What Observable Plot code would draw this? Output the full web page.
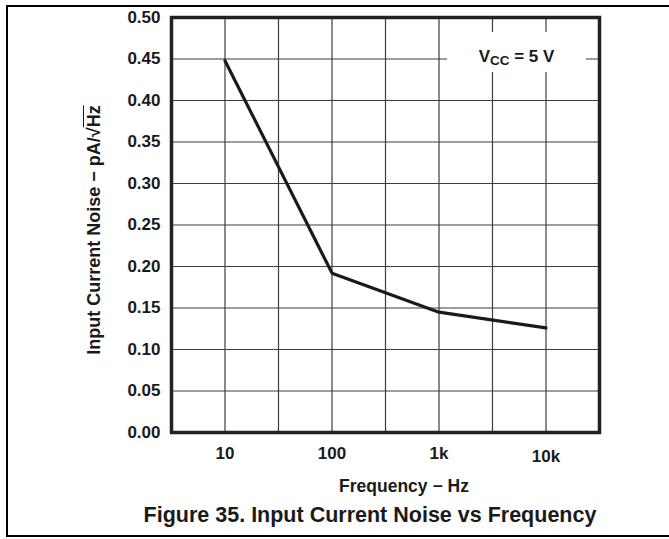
<!DOCTYPE html>
<html><head><meta charset="utf-8">
<script src="https://cdn.jsdelivr.net/npm/d3@7"></script>
<script src="https://cdn.jsdelivr.net/npm/@observablehq/plot@0.6"></script>
<style>
body{margin:0;background:#fff;}
#wrap{position:relative;width:669px;height:539px;overflow:hidden;font-family:"Liberation Sans",Arial,sans-serif;font-weight:bold;color:#1a1a1a;}
#chart{position:absolute;left:0;top:0;}
.border{position:absolute;left:6px;top:5px;width:663px;height:532px;box-sizing:border-box;border:2px solid #000;border-right:none;}
.lbl{position:absolute;white-space:nowrap;line-height:1;}
#title{left:370px;top:505px;font-size:21.5px;transform:translateX(-50%);}
#xlabel{left:404px;top:478.2px;font-size:17.5px;transform:translateX(-50%);}
#ylabel{left:93.5px;top:230px;font-size:18px;transform:translate(-50%,-50%) rotate(-90deg);}
#ylabel .ov{text-decoration:overline;}
#vcc{position:absolute;left:447px;top:32px;width:139px;height:40px;background:#fff;box-sizing:border-box;padding-top:15.6px;text-align:center;font-size:17px;line-height:17px;white-space:nowrap;}
#vcc sub{font-size:13.5px;vertical-align:baseline;position:relative;top:3px;}
</style></head><body>
<div id="wrap">
  <div id="chart"></div>
  <div class="border"></div>
  <div id="vcc">V<sub>CC</sub> = 5 V</div>
  <div class="lbl" id="ylabel">Input Current Noise − pA/√<span class="ov">Hz</span></div>
  <div class="lbl" id="xlabel">Frequency − Hz</div>
  <div class="lbl" id="title">Figure 35. Input Current Noise vs Frequency</div>
</div>
<script>
// data
const freq = [10, 100, 1000, 10000];
const noise = [0.448, 0.192, 0.145, 0.126];
// axes
const xDomain = [3.1623, 31623];
const xGrid = [10, 31.623, 100, 316.23, 1000, 3162.3, 10000];
const xTicks = [10, 100, 1000];
const xTickLabels = ["10", "100", "1k"];
const xTicksLow = [10000];
const xTickLabelsLow = ["10k"];
const yTicks = [0, 0.05, 0.10, 0.15, 0.20, 0.25, 0.30, 0.35, 0.40, 0.45, 0.50];

const data = freq.map((f, i) => ({f, n: noise[i]}));
const labelOf = new Map([...xTicks.map((t, i) => [t, xTickLabels[i]]), ...xTicksLow.map((t, i) => [t, xTickLabelsLow[i]])]);

const plot = Plot.plot({
  width: 669,
  height: 470,
  marginLeft: 171,
  marginRight: 70,
  marginTop: 17,
  marginBottom: 38,
  style: {fontFamily: "'Liberation Sans', Arial, sans-serif", fontSize: "17px", fontWeight: "bold", color: "#1a1a1a", background: "transparent", overflow: "visible"},
  x: {type: "log", domain: xDomain},
  y: {domain: [0, 0.5]},
  marks: [
    Plot.ruleX(xGrid, {stroke: "#3c3c3c", strokeWidth: 1.2}),
    Plot.ruleY(yTicks, {stroke: "#3c3c3c", strokeWidth: 1.2}),
    Plot.axisY(yTicks, {tickSize: 0, tickPadding: 11, tickFormat: d3.format(".2f"), label: null, fill: "#1a1a1a"}),
    Plot.axisX(xTicks, {tickSize: 0, tickPadding: 14, tickFormat: d => labelOf.get(d), label: null, fill: "#1a1a1a"}),
    Plot.axisX(xTicksLow, {tickSize: 0, tickPadding: 17, tickFormat: d => labelOf.get(d), label: null, fill: "#1a1a1a"}),
    Plot.line(data, {x: "f", y: "n", stroke: "#1a1a1a", strokeWidth: 3.2}),
    Plot.frame({stroke: "#222", strokeWidth: 3.5})
  ]
});
document.getElementById("chart").appendChild(plot);
</script>
</body></html>
